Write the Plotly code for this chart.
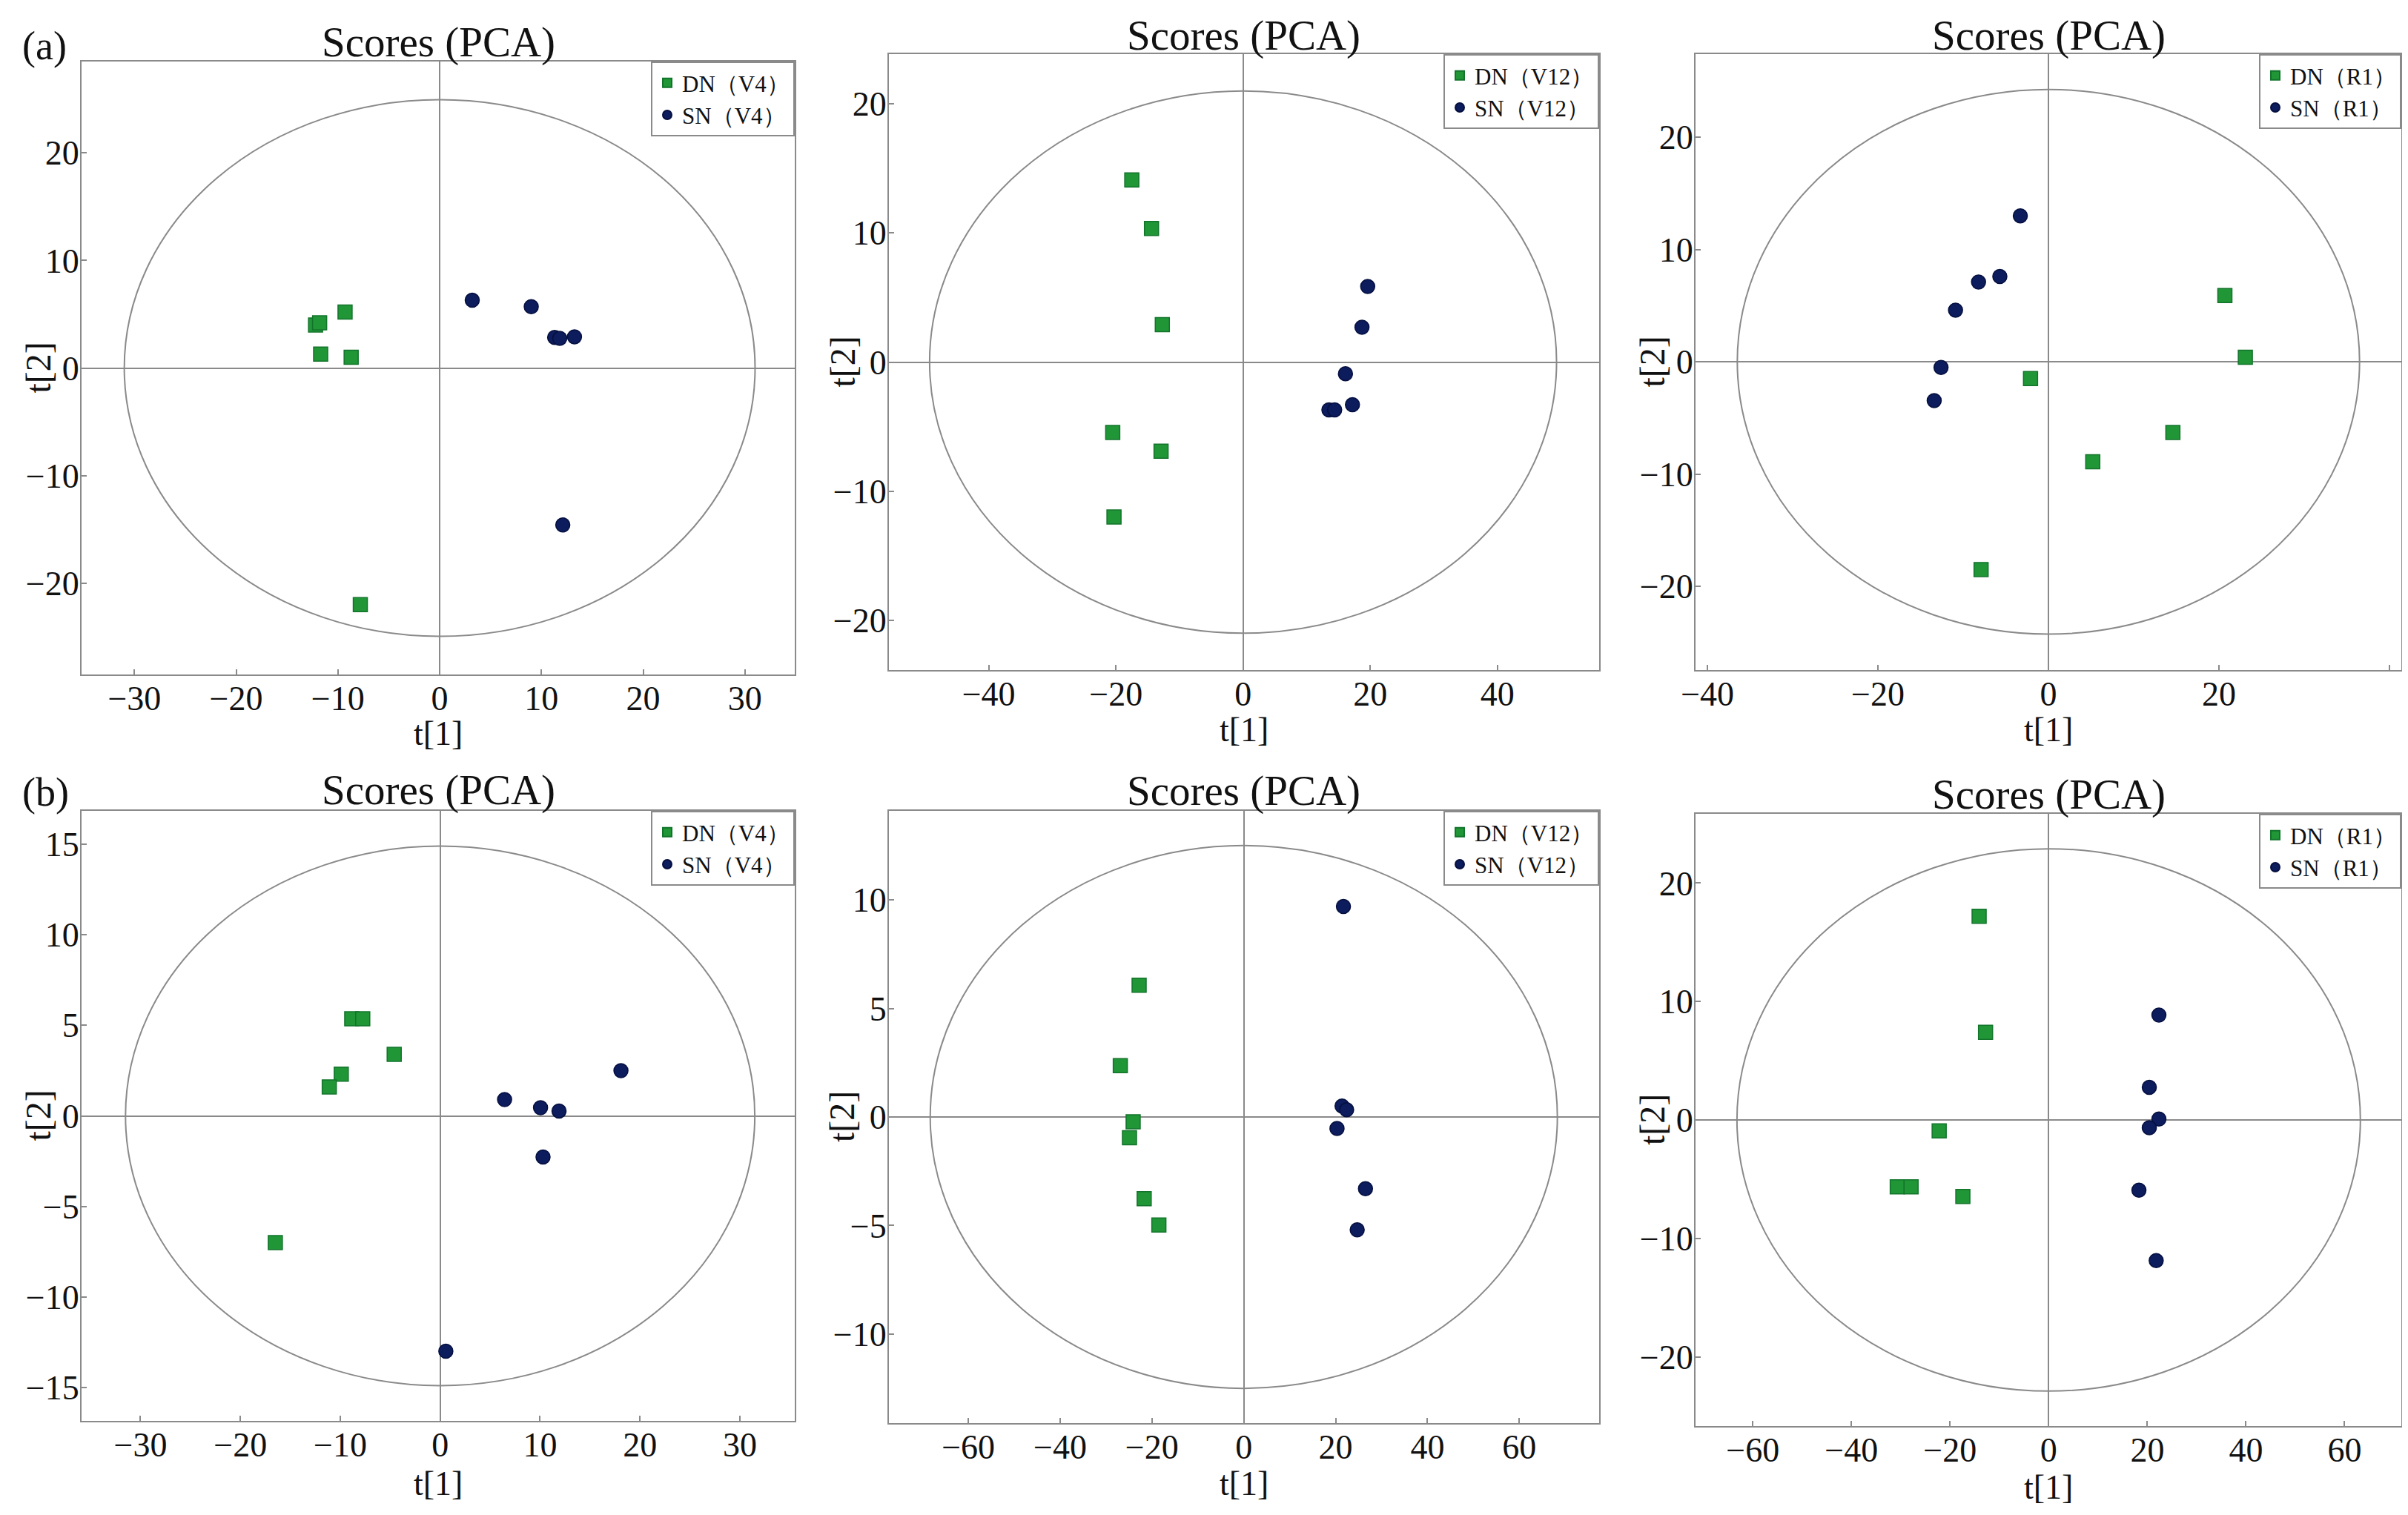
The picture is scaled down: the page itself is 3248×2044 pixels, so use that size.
import plotly.graph_objects as go

# page geometry: the browser adds an 8 px body margin, so the figure is drawn 16 px smaller
PAGE_W, PAGE_H = 3248, 2044
OFF = 8
W, H = PAGE_W - 2 * OFF, PAGE_H - 2 * OFF

# ---------------- data ----------------
legend_tags = ["V4", "V12", "R1", "V4", "V12", "R1"]

a1_dn_x = [-12.2, -11.8, -9.3, -11.7, -8.7, -7.8]
a1_dn_y = [4.0, 4.2, 5.2, 1.3, 1.0, -22.0]
a1_sn_x = [3.2, 9.0, 11.3, 11.8, 13.25, 12.1]
a1_sn_y = [6.3, 5.7, 2.85, 2.75, 2.9, -14.6]

a2_dn_x = [-17.5, -14.4, -12.7, -20.5, -12.9, -20.3]
a2_dn_y = [14.1, 10.35, 2.9, -5.45, -6.9, -12.0]
a2_sn_x = [19.6, 18.7, 16.1, 13.5, 14.4, 17.2]
a2_sn_y = [5.85, 2.7, -0.9, -3.7, -3.7, -3.3]

a3_dn_x = [20.7, 23.1, -2.1, 14.6, 5.2, -7.9]
a3_dn_y = [5.9, 0.4, -1.5, -6.3, -8.9, -18.5]
a3_sn_x = [-3.3, -5.7, -8.2, -10.9, -12.6, -13.4]
a3_sn_y = [13.0, 7.6, 7.1, 4.6, -0.5, -3.45]

b1_dn_x = [-8.85, -7.75, -4.6, -9.9, -11.1, -16.5]
b1_dn_y = [5.36, 5.36, 3.4, 2.3, 1.6, -7.0]
b1_sn_x = [6.45, 10.05, 11.9, 18.1, 10.3, 0.57]
b1_sn_y = [0.9, 0.45, 0.27, 2.5, -2.27, -13.0]

b2_dn_x = [-22.8, -26.9, -24.1, -24.9, -21.7, -18.5]
b2_dn_y = [6.07, 2.36, -0.22, -0.96, -3.76, -4.98]
b2_sn_x = [21.7, 21.4, 22.4, 20.3, 26.5, 24.7]
b2_sn_y = [9.7, 0.5, 0.33, -0.53, -3.3, -5.2]

b3_dn_x = [-14.1, -12.8, -22.2, -30.7, -27.9, -17.4]
b3_dn_y = [17.2, 7.4, -0.93, -5.65, -5.65, -6.46]
b3_sn_x = [22.35, 20.4, 22.35, 20.4, 18.3, 21.8]
b3_sn_y = [8.86, 2.76, 0.08, -0.65, -5.93, -11.87]

# Hotelling T2 ellipse semi-axes (t[1], t[2])
ellipse_a = [31.0, 49.3, 36.5, 31.5, 68.3, 63.2]
ellipse_b = [24.95, 21.0, 24.25, 14.9, 12.5, 22.9]

# axis ranges and tick steps
x_ranges = [[-35.2, 34.9], [-55.7, 56.0], [-41.4, 41.4], [-35.9, 35.5], [-77.3, 77.4], [-71.6, 71.5]]
y_ranges = [[-28.5, 28.5], [-23.85, 23.85], [-27.45, 27.4], [-16.85, 16.85], [-14.1, 14.1], [-25.85, 25.85]]
x_dticks = [10, 20, 20, 10, 20, 20]
y_dticks = [10, 10, 10, 5, 5, 10]

dn_x = [a1_dn_x, a2_dn_x, a3_dn_x, b1_dn_x, b2_dn_x, b3_dn_x]
dn_y = [a1_dn_y, a2_dn_y, a3_dn_y, b1_dn_y, b2_dn_y, b3_dn_y]
sn_x = [a1_sn_x, a2_sn_x, a3_sn_x, b1_sn_x, b2_sn_x, b3_sn_x]
sn_y = [a1_sn_y, a2_sn_y, a3_sn_y, b1_sn_y, b2_sn_y, b3_sn_y]

# ---------------- layout geometry (page pixels) ----------------
boxes = [  # left, right, top, bottom
    (110, 1072, 83, 910),
    (1199, 2157, 73, 904),
    (2287, 3239, 73, 904),
    (110, 1072, 1094, 1917),
    (1199, 2157, 1094, 1920),
    (2287, 3239, 1098, 1924),
]
title_centers_y = [57, 48, 48, 1066, 1067, 1072]
xtitle_y = [989, 984, 984, 2001, 2001, 2006]
ytitle_x = [51, 1136, 2228, 51, 1135, 2228]

FONT = "Liberation Serif, Times New Roman, serif"
GREY = "#8a8a8a"
GREEN = "#209637"
GREEN_EDGE = "#12742b"
NAVY = "#0c1c5c"
NAVY_EDGE = "#050f3f"
TXT = "#111111"


def clamp(v):
    return max(0.0, min(1.0, v))


def px(xp):
    return clamp((xp - OFF) / W)


def py(yp):
    return clamp(1 - (yp - OFF) / H)


fig = go.Figure()
layout = dict(
    width=W, height=H,
    margin=dict(l=0, r=0, t=0, b=0, autoexpand=False),
    paper_bgcolor="white", plot_bgcolor="white",
    font=dict(family=FONT, color=TXT),
    showlegend=True,
    shapes=[], annotations=[],
)

for i in range(6):
    n = "" if i == 0 else str(i + 1)
    xa, ya = "x" + n, "y" + n
    leg = "legend" + n
    tag = legend_tags[i]
    fig.add_trace(go.Scatter(
        x=dn_x[i], y=dn_y[i], mode="markers", name="DN\uff08" + tag + "\uff09",
        xaxis=xa, yaxis=ya, legend=leg,
        marker=dict(symbol="square", size=19, color=GREEN, line=dict(color=GREEN_EDGE, width=1.5)),
    ))
    fig.add_trace(go.Scatter(
        x=sn_x[i], y=sn_y[i], mode="markers", name="SN\uff08" + tag + "\uff09",
        xaxis=xa, yaxis=ya, legend=leg,
        marker=dict(symbol="circle", size=19, color=NAVY, line=dict(color=NAVY_EDGE, width=1.5)),
    ))
    l, r, t, b = boxes[i]
    axis_common = dict(
        showgrid=False, zeroline=True, zerolinecolor=GREY, zerolinewidth=2,
        showline=True, linecolor=GREY, linewidth=2, mirror=True,
        ticks="inside", ticklen=7, tickwidth=2, tickcolor=GREY,
        tickfont=dict(family=FONT, size=46, color=TXT),
        automargin=False, tick0=0,
    )
    layout["xaxis" + n] = dict(
        axis_common, domain=[px(l), px(r)], range=x_ranges[i], dtick=x_dticks[i],
        anchor=ya, ticklabelstandoff=-9,
    )
    layout["yaxis" + n] = dict(
        axis_common, domain=[py(b), py(t)], range=y_ranges[i], dtick=y_dticks[i],
        anchor=xa, ticklabelstandoff=-8,
    )
    layout["shapes"].append(dict(
        type="circle", xref=xa, yref=ya, layer="below",
        x0=-ellipse_a[i], x1=ellipse_a[i], y0=-ellipse_b[i], y1=ellipse_b[i],
        line=dict(color=GREY, width=2),
    ))
    layout["annotations"].append(dict(
        text="Scores (PCA)", xref="paper", yref="paper",
        x=px((l + r) / 2), y=py(title_centers_y[i]), xanchor="center", yanchor="middle",
        showarrow=False, font=dict(family=FONT, size=57, color=TXT),
    ))
    layout["annotations"].append(dict(
        text="t[1]", xref="paper", yref="paper",
        x=px((l + r) / 2), y=py(xtitle_y[i]), xanchor="center", yanchor="middle",
        showarrow=False, font=dict(family=FONT, size=46, color=TXT),
    ))
    layout["annotations"].append(dict(
        text="t[2]", xref="paper", yref="paper", textangle=-90,
        x=px(ytitle_x[i]), y=py((t + b) / 2), xanchor="center", yanchor="middle",
        showarrow=False, font=dict(family=FONT, size=48, color=TXT),
    ))
    layout[leg] = dict(
        x=px(r), y=py(t), xanchor="right", yanchor="top",
        bgcolor="white", bordercolor=GREY, borderwidth=2,
        font=dict(family=FONT, size=31, color=TXT),
        itemsizing="constant", tracegroupgap=0, itemwidth=30,
    )

layout["annotations"].append(dict(
    text="(a)", xref="paper", yref="paper", x=px(60), y=py(62),
    xanchor="center", yanchor="middle", showarrow=False,
    font=dict(family=FONT, size=54, color=TXT),
))
layout["annotations"].append(dict(
    text="(b)", xref="paper", yref="paper", x=px(61), y=py(1069),
    xanchor="center", yanchor="middle", showarrow=False,
    font=dict(family=FONT, size=54, color=TXT),
))

fig.update_layout(**layout)
fig.write_html("out.html")
